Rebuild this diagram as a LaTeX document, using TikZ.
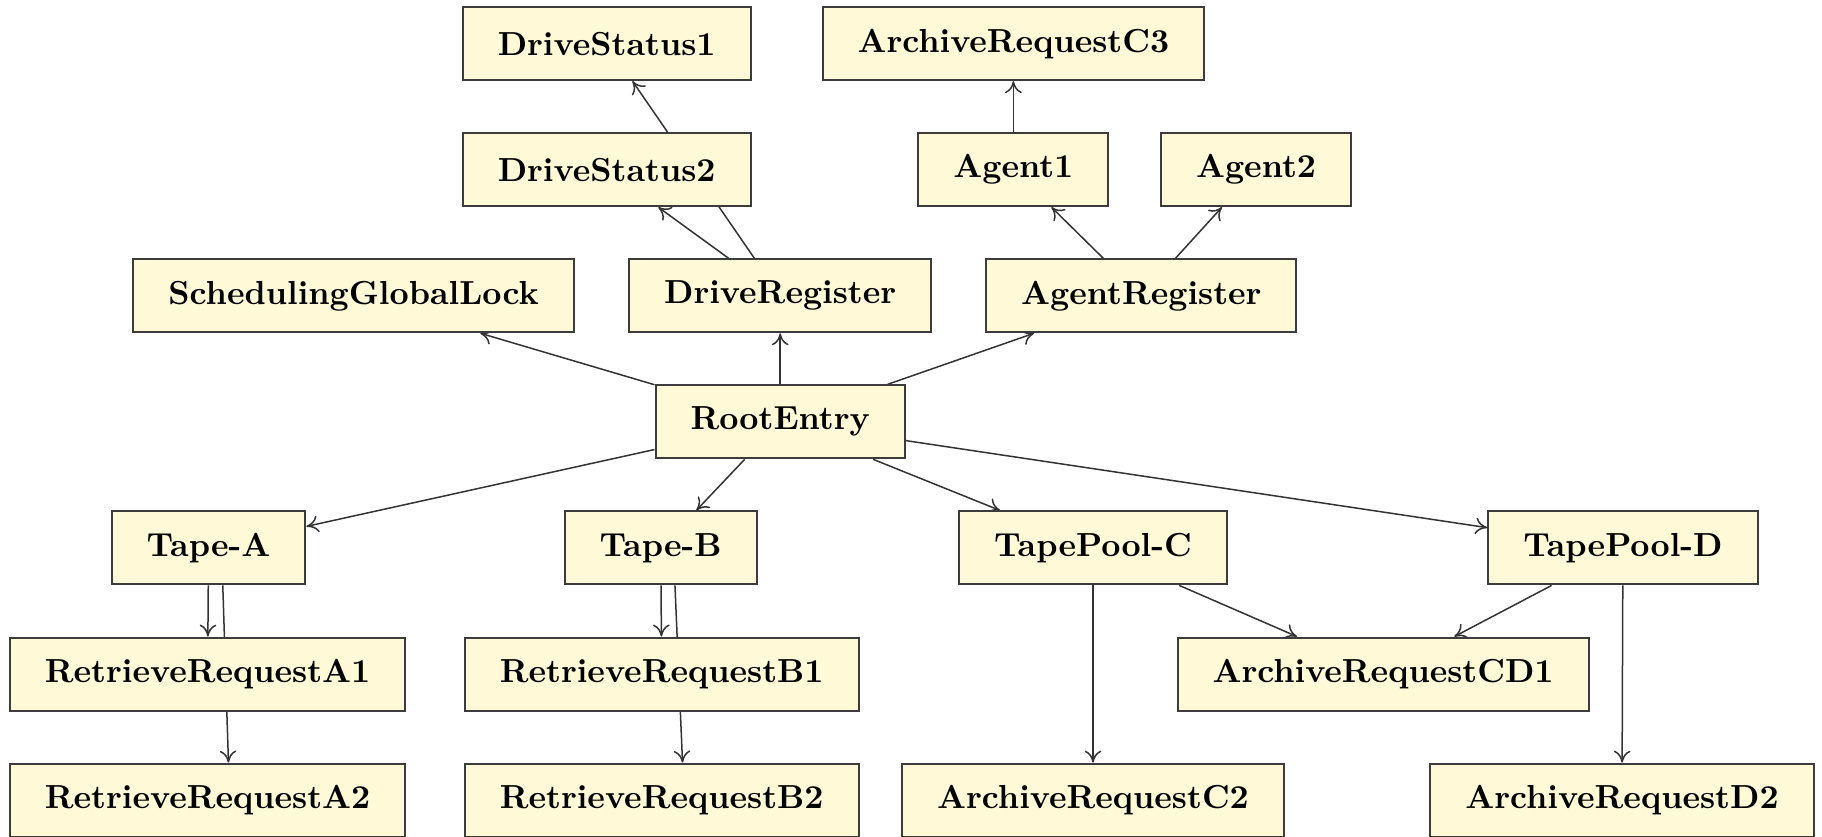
\documentclass[tikz,border=0pt]{standalone}
\usepackage{xcolor}
\usepackage{tikz}
\usetikzlibrary{arrows.meta,backgrounds}

\definecolor{objfill}{RGB}{255,249,215}
\definecolor{objline}{RGB}{60,60,60}

\tikzset{
  obj/.style={draw=objline, fill=objfill, line width=0.6pt, rectangle,
    inner xsep=10.5pt, minimum height=21.9pt, font=\bfseries},
  link/.style={draw=black!80, line width=0.45pt, -{To[length=3.6pt,width=5pt]}},
  plain/.style={draw=black!80, line width=0.45pt}
}

\begin{document}
\begin{tikzpicture}[scale = 1]
\useasboundingbox (0,0) rectangle (19.22,-8.82);

% top rows
\node[obj] (ds1) at (6.40,-0.46) {DriveStatus1};
\node[obj] (arc3) at (10.69,-0.46) {ArchiveRequestC3};
\node[obj] (ds2) at (6.40,-1.79) {DriveStatus2};
\node[obj] (ag1) at (10.69,-1.79) {Agent1};
\node[obj] (ag2) at (13.25,-1.79) {Agent2};
\node[obj] (sgl) at (3.73,-3.12) {SchedulingGlobalLock};
\node[obj] (dreg) at (8.23,-3.12) {DriveRegister};
\node[obj] (areg) at (12.04,-3.12) {AgentRegister};
\node[obj] (root) at (8.23,-4.45) {RootEntry};

% bottom rows
\node[obj] (tapea) at (2.20,-5.78) {Tape-A};
\node[obj] (tapeb) at (6.97,-5.78) {Tape-B};
\node[obj] (poolc) at (11.53,-5.78) {TapePool-C};
\node[obj] (poold) at (17.12,-5.78) {TapePool-D};
\node[obj] (rra1) at (2.19,-7.11) {RetrieveRequestA1};
\node[obj] (rrb1) at (6.98,-7.11) {RetrieveRequestB1};
\node[obj] (arcd1) at (14.59,-7.11) {ArchiveRequestCD1};
\node[obj] (rra2) at (2.19,-8.44) {RetrieveRequestA2};
\node[obj] (rrb2) at (6.98,-8.44) {RetrieveRequestB2};
\node[obj] (arc2) at (11.53,-8.44) {ArchiveRequestC2};
\node[obj] (ard2) at (17.11,-8.44) {ArchiveRequestD2};

\begin{scope}[on background layer]
\draw[link] (root) -- (sgl);
\draw[link] (root) -- (dreg);
\draw[link] (root) -- (areg);
\draw[link] (root) -- (tapea);
\draw[link] (root) -- (tapeb);
\draw[link] (root) -- (poolc);
\draw[link] (root) -- (poold);

\draw[link] (dreg) -- (ds2);
\draw[link] (dreg) -- (ds1);
\draw[link] (areg) -- (ag1);
\draw[link] (areg) -- (ag2);
\draw[link] (ag1) -- (arc3);

\draw[link] (tapea) -- (rra1);
\draw[link] ([xshift=0.15cm]tapea.south) -- ([xshift=0.22cm]rra2.north);
\draw[link] (tapeb) -- (rrb1);
\draw[link] ([xshift=0.15cm]tapeb.south) -- ([xshift=0.22cm]rrb2.north);

\draw[link] (poolc) -- (arc2);
\draw[link] (poolc) -- (arcd1);
\draw[link] (poold) -- (arcd1);
\draw[link] (poold) -- (ard2);
\end{scope}

\end{tikzpicture}
\end{document}
